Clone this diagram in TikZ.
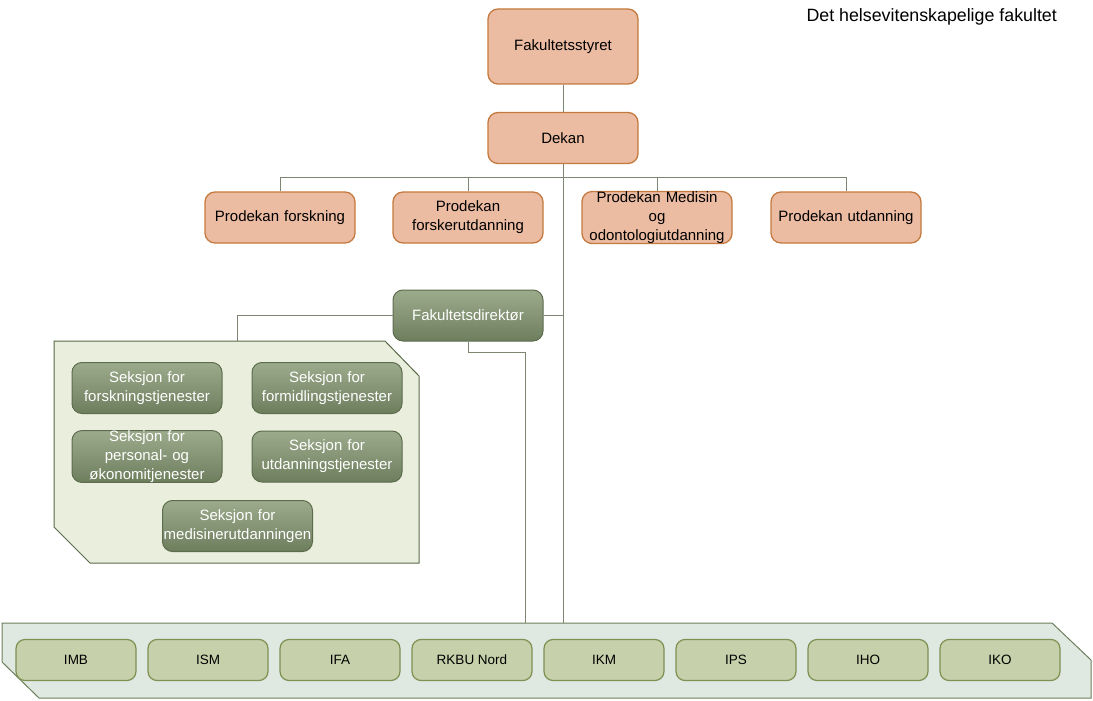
\documentclass[tikz,border=0pt]{standalone}
\usepackage{fontspec}
\setmainfont{Liberation Sans}
\usetikzlibrary{positioning}

\definecolor{leadfill}{HTML}{EBBBA2}
\definecolor{leadline}{HTML}{C47A3E}
\definecolor{admtop}{HTML}{9DAB8D}
\definecolor{admbot}{HTML}{6D7E5D}
\definecolor{admline}{HTML}{5D6B4E}
\definecolor{secfill}{HTML}{EAEEDC}
\definecolor{secline}{HTML}{5B6A4A}
\definecolor{bandfill}{HTML}{DFE9E2}
\definecolor{bandline}{HTML}{6E7E5B}
\definecolor{instfill}{HTML}{C6D0AA}
\definecolor{instline}{HTML}{7E9153}
\definecolor{connline}{HTML}{7C8670}

\begin{document}
\begin{tikzpicture}[x=1pt,y=-1pt,
    every node/.style={font=\fontsize{15}{19}\selectfont},
    leader/.style={rectangle,rounded corners=10pt,draw=leadline,line width=1.3pt,
                   fill=leadfill,minimum width=150pt,minimum height=51pt,
                   align=center,text width=150pt,inner sep=0pt},
    admin/.style={rectangle,rounded corners=10pt,draw=admline,line width=1pt,
                  top color=admtop,bottom color=admbot,text=white,
                  minimum width=150pt,minimum height=51pt,
                  align=center,text width=150pt,inner sep=0pt},
    inst/.style={rectangle,rounded corners=9pt,draw=instline,line width=1.2pt,
                 fill=instfill,minimum width=120pt,minimum height=41pt,
                 font=\fontsize{13.5}{16}\selectfont},
    conn/.style={draw=connline,line width=0.9pt}]

  \useasboundingbox (0,0) rectangle (1093,701);

  % containers
  \draw[draw=secline,fill=secfill,line width=1pt]
    (54,341) -- (385,341) -- (419,376) -- (419,563) -- (90,563) -- (54,527) -- cycle;
  \draw[draw=bandline,fill=bandfill,line width=1pt]
    (2,623) -- (1052,623) -- (1091,660) -- (1091,698) -- (39,698) -- (2,662) -- cycle;
  \coordinate (sectop) at (237,341);
  \coordinate (bandtop) at (2,623);
  \coordinate (bandlink) at (525,623);

  % leadership
  \node[leader,minimum height=75pt] (styret) at (563,46.5) {Fakultetsstyret};
  \node[leader] (dekan)    at (563,138)   {Dekan};
  \node[leader] (pforsk)   at (280,217.5) {Prodekan forskning};
  \node[leader] (pforskut) at (468,217.5) {Prodekan\\forskerutdanning};
  \node[leader] (pmed)     at (657,217.5) {Prodekan Medisin\\og\\odontologiutdanning};
  \node[leader] (putd)     at (846,217.5) {Prodekan utdanning};

  \node[admin] (direktor) at (468,315.5) {Fakultetsdirektør};

  % sections
  \node[admin] (sforsk) at (147,388)   {Seksjon for\\forskningstjenester};
  \node[admin] (sformi) at (327,388)   {Seksjon for\\formidlingstjenester};
  \node[admin] (spers)  at (147,456.5) {Seksjon for\\personal- og\\økonomitjenester};
  \node[admin] (sutd)   at (327,456.5) {Seksjon for\\utdanningstjenester};
  \node[admin] (smed)   at (237.5,526) {Seksjon for\\medisinerutdanningen};

  % institutes
  \node[inst] (imb)  at (76,660)   {IMB};
  \node[inst] (ism)  at (208,660)  {ISM};
  \node[inst] (ifa)  at (340,660)  {IFA};
  \node[inst] (rkbu) at (472,660)  {RKBU Nord};
  \node[inst] (ikm)  at (604,660)  {IKM};
  \node[inst] (ips)  at (736,660)  {IPS};
  \node[inst] (iho)  at (868,660)  {IHO};
  \node[inst] (iko)  at (1000,660) {IKO};

  \node[anchor=west,font=\fontsize{17.8}{20}\selectfont] (title) at (803,17)
    {Det helsevitenskapelige fakultet};

  % connectors
  \draw[conn] (styret) -- (dekan);
  \draw[conn] (dekan.south) -- (dekan.south |- bandtop);
  \draw[conn] (pforsk.north) -- ++(0,-14) -| (putd.north);
  \draw[conn] (pforskut.north) -- ++(0,-14);
  \draw[conn] (pmed.north) -- ++(0,-14);
  \draw[conn] (direktor.east) -- (direktor.east -| dekan.south);
  \draw[conn] (direktor.west) -| (sectop);
  \draw[conn] (direktor.south) -- ++(0,11) -| (bandlink);
\end{tikzpicture}
\end{document}
